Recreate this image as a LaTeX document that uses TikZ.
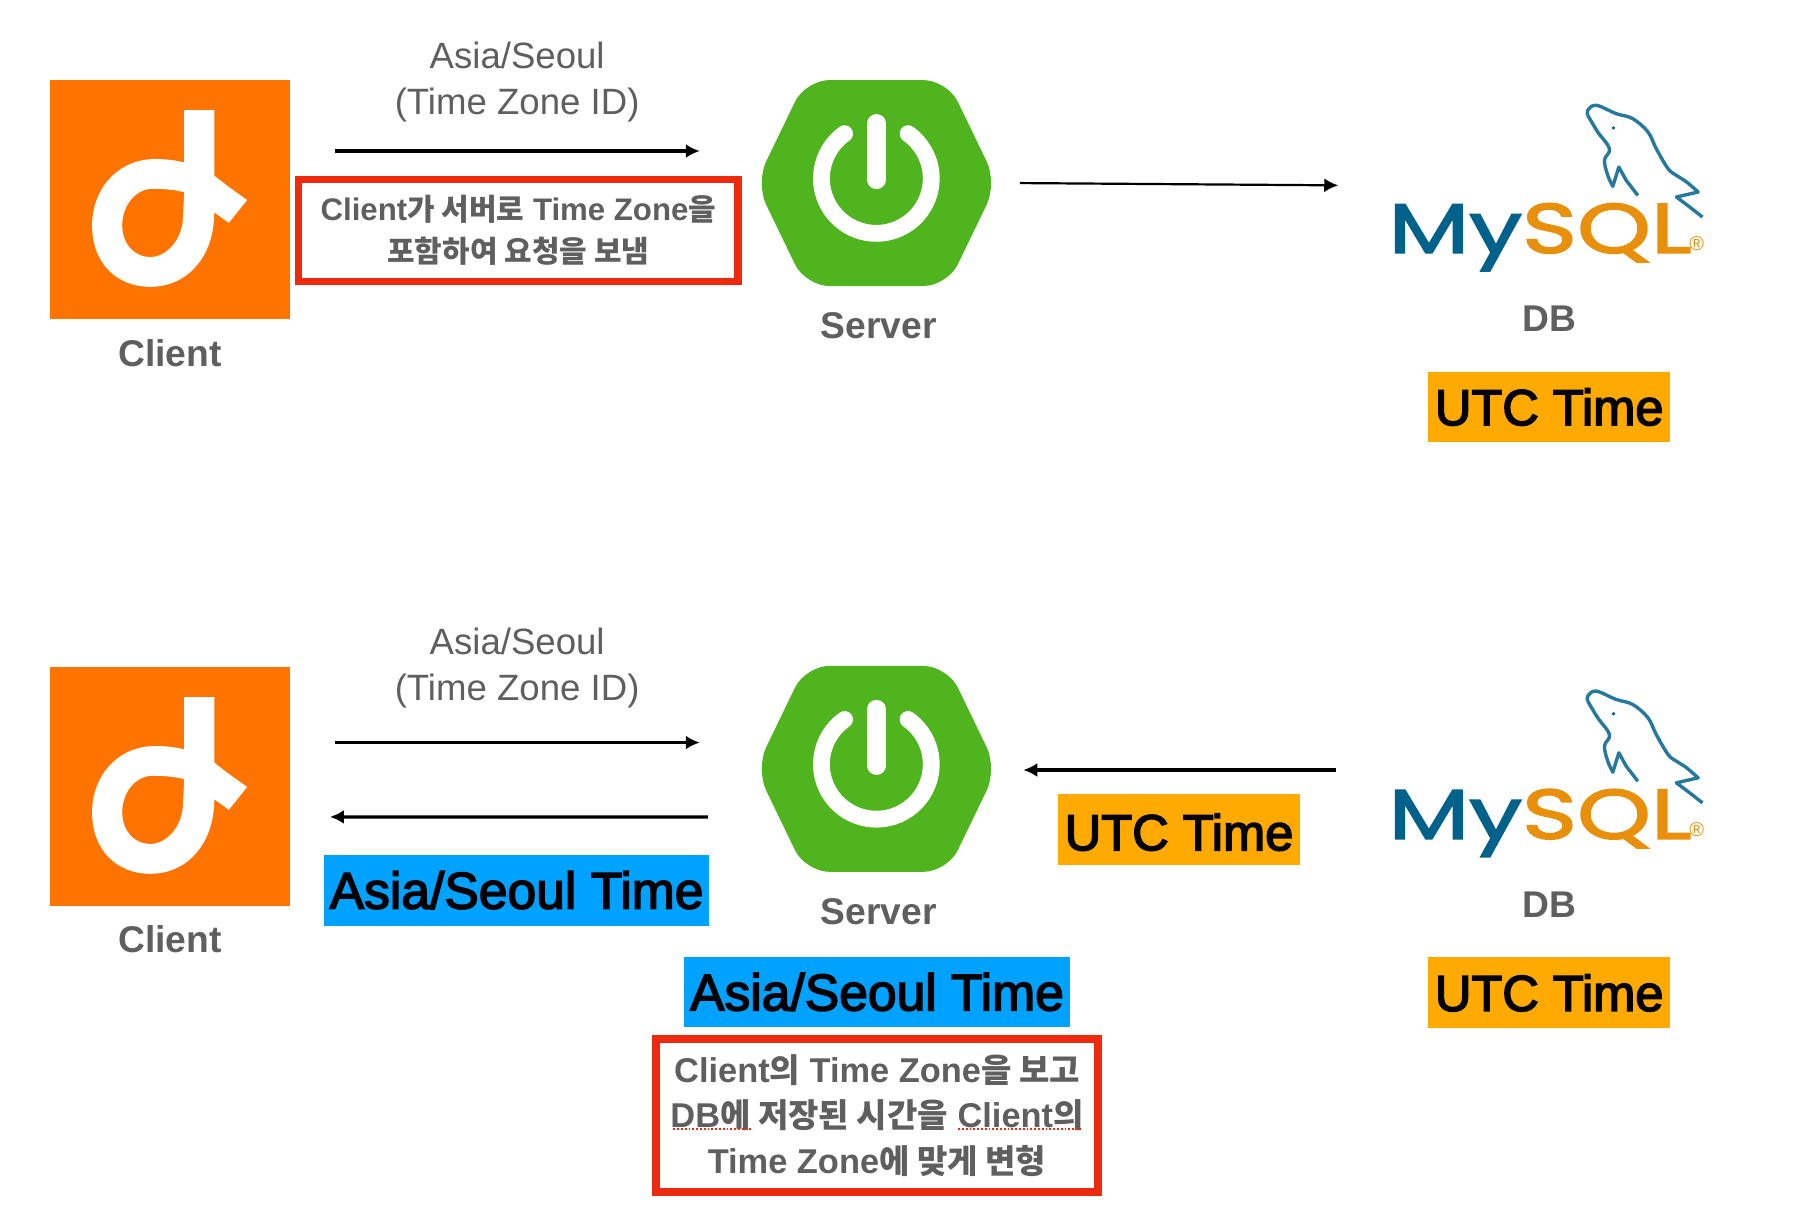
\documentclass[tikz,border=0pt]{standalone}
\usepackage{fontspec}
\setmainfont{Liberation Sans}
\newfontfamily\krfont[Scale=0.96]{Noto Sans CJK KR}
\newfontfamily\mysqlfont[FakeStretch=1.34,FakeBold=2.5]{Poppins}
\newfontfamily\tagfont[FakeBold=3]{Liberation Sans}
\newcommand{\kr}[1]{{\krfont #1}}
\usetikzlibrary{positioning, arrows.meta}

\definecolor{clientorange}{HTML}{FF7300}
\definecolor{springgreen}{HTML}{50B41E}
\definecolor{labelgray}{HTML}{5F5F5F}
\definecolor{noteblue}{HTML}{00A2FF}
\definecolor{noteamber}{HTML}{FFAA00}
\definecolor{notered}{HTML}{EE2A0E}
\definecolor{mysqlblue}{HTML}{00618A}
\definecolor{mysqlorange}{HTML}{E8900C}

\tikzset{
    clientmark/.pic = {
        \fill[white, even odd rule]
            (12.5,-78.3) -- (38.8,-78.3) -- (38.8,-20.9)
            .. controls (50,-12) and (60,-5) .. (67.5,0.3) -- (51.5,20.3) -- (38.8,11)
            .. controls (38.8,50) and (15,76.2) .. (-17.1,76.2)
            .. controls (-47,76.2) and (-68,55) .. (-68,22.6)
            .. controls (-68,-10) and (-45,-35.5) .. (-12.9,-35.5)
            .. controls (-4,-35.5) and (5,-34.5) .. (12.5,-32.5) -- cycle
            (12.5,-6.5) .. controls (5,-8.5) and (-5,-9.5) .. (-15,-9.5)
            .. controls (-30,-9.5) and (-41.7,5) .. (-41.7,22.5)
            .. controls (-41.7,38) and (-32,50.1) .. (-17.1,50.1)
            .. controls (-3,50.1) and (11.5,35) .. (11.5,13.9) -- cycle;
    },
    springmark/.pic = {
        \fill[springgreen, rounded corners = 12pt]
            (-62,-90) -- (62,-90) -- (105.5,0) -- (62,90) -- (-62,90) -- (-105.5,0) -- cycle;
        \draw[white, line width = 8.4pt, line cap = round]
            (-27.8,-43.2) arc[start angle = 234.7, end angle = -54.7, radius = 48];
        \draw[white, line width = 9.5pt, line cap = round] (0,-52) -- (0,-3);
    },
    dolphinmark/.pic = {
        \draw[mysqlblue!85!white, line width = 1.7pt, line join = round]
            plot[smooth, tension = 0.6] coordinates {(33.7,-61.2) (33.7,-65.6) (41,-70) (58.5,-62.7)
                (73,-58.3) (86.3,-46.7) (93.6,-32) (103.9,-14.6) (111.2,-8.7) (120,-3) (130.2,5.8)}
            -- (111.2,10.2) -- (122.9,19) -- (134,27.7);
        \draw[mysqlblue!85!white, line width = 1.7pt, line join = round]
            plot[smooth, tension = 0.6] coordinates {(33.7,-61.2) (42.4,-46.7) (52.7,-32) (48.3,-22)
                (51.2,-8.7) (55.6,0.9)}
            -- (60.9,-16) -- (67.3,-4.4) -- (77.5,8.8);
        \fill[mysqlblue] (56.2,-50.2) circle (1.6);
    }
}

\begin{document}
\begin{tikzpicture}[x = 0.572pt, y = -0.572pt,
    clientbox/.style = {fill = clientorange, minimum size = 119.6pt, inner sep = 0pt},
    markbox/.style = {inner sep = 0pt, minimum width = #1},
    caption/.style = {font = \bfseries\fontsize{18.6}{23}\selectfont, text = labelgray, inner sep = 0pt},
    zoneid/.style = {font = \fontsize{18.3}{23}\selectfont, text = labelgray, align = center, inner sep = 0pt},
    utctag/.style = {fill = noteamber, font = \tagfont\fontsize{25.3}{30}\selectfont, minimum width = 121.3pt, minimum height = 35.4pt, inner sep = 0pt},
    seoultag/.style = {fill = noteblue, font = \tagfont\fontsize{25.8}{30}\selectfont, minimum width = 192.8pt, minimum height = 35.4pt, inner sep = 0pt},
    note/.style = {draw = notered, line width = 3.6pt, align = center, inner sep = 0pt, text = labelgray, font = \bfseries\fontsize{15.6}{20.8}\selectfont},
    mysqltext/.style = {anchor = base, inner sep = 0pt, font = \mysqlfont\fontsize{35}{35}\selectfont},
    flow/.style = {draw, line width = 1.6pt, -{Latex[length = 7pt, width = 7pt]}},
    spellmark/.style = {draw = notered, line width = 0.9pt, densely dotted}]
    \useasboundingbox (0,0) rectangle (1568,1071.7);

    % upper row
    \node[clientbox] (client1) at (148.5,174.5) {};
    \pic at (client1) {clientmark};
    \node[caption] (clientlabel1) [below = 9.5pt of client1] {Client};
    \node[markbox = 115pt, minimum height = 103pt] (server1) at (766,160) {};
    \pic at (server1) {springmark};
    \node[caption] (serverlabel1) [below = 12.8pt of server1, xshift = 1.1pt] {Server};
    \node[markbox = 155.6pt, minimum height = 80.1pt] (db1) at (1354,162) {};
    \pic at (db1) {dolphinmark};
    \node[mysqltext] (mysql1) at ([shift = {(-8,59)}] db1.center)
        {\textcolor{mysqlblue}{My}\textcolor{mysqlorange}{SQL}};
    \node[text = mysqlorange, inner sep = 0pt, font = \fontsize{10}{10}\selectfont] (reg1) at ([shift = {(129,51)}] db1.center) {®};
    \node[caption] (dblabel1) [below = 20pt of db1] {DB};
    \node[utctag] (utc1) [below = 19.5pt of dblabel1] {UTC Time};
    \node[zoneid] (zone1) at (452,72) {Asia/Seoul\\(Time Zone ID)};
    \node[note, minimum width = 219.7pt, minimum height = 50.9pt] (note1) at (453,201.5)
        {Client\kr{가 서버로} Time Zone\kr{을}\\\kr{포함하여 요청을 보냄}};
    \path[flow] ([shift = {(39,-42.5)}] client1.east) -- ([shift = {(-53.5,-28)}] server1.west);
    \path[flow, line width = 1.1pt] ([shift = {(24.5,0)}] server1.east) -- ([shift = {(-48,0)}] db1.west);

    % lower row
    \node[clientbox] (client2) at (148.5,687.5) {};
    \pic at (client2) {clientmark};
    \node[caption] (clientlabel2) [below = 9.5pt of client2] {Client};
    \node[markbox = 115pt, minimum height = 103pt] (server2) at (766,672) {};
    \pic at (server2) {springmark};
    \node[caption] (serverlabel2) [below = 12.8pt of server2, xshift = 1.1pt] {Server};
    \node[markbox = 155.6pt, minimum height = 80.1pt] (db2) at (1354,674) {};
    \pic at (db2) {dolphinmark};
    \node[mysqltext] (mysql2) at ([shift = {(-8,59)}] db2.center)
        {\textcolor{mysqlblue}{My}\textcolor{mysqlorange}{SQL}};
    \node[text = mysqlorange, inner sep = 0pt, font = \fontsize{10}{10}\selectfont] (reg2) at ([shift = {(129,51)}] db2.center) {®};
    \node[caption] (dblabel2) [below = 20pt of db2] {DB};
    \node[utctag] (utc2) [below = 19.5pt of dblabel2] {UTC Time};
    \node[zoneid] (zone2) at (452,584) {Asia/Seoul\\(Time Zone ID)};
    \node[seoultag] (seoul1) at (451.5,778) {Asia/Seoul Time};
    \node[seoultag] (seoul2) at (766.5,867) {Asia/Seoul Time};
    \node[utctag, text height = 21pt] (utc3) at (1030.5,725) {UTC Time};
    \node[note, line width = 4pt, font = \bfseries\fontsize{17.2}{22.7}\selectfont, minimum width = 220.9pt, minimum height = 76.1pt] (note2) at (766.5,975)
        {Client\kr{의} Time Zone\kr{을 보고}\\DB\kr{에 저장된 시간을} Client\kr{의}\\Time Zone\kr{에 맞게 변형}};
    \path[spellmark] ([shift = {(-178,12)}] note2.center) -- ([shift = {(-110,12)}] note2.center);
    \path[spellmark] ([shift = {(71,12)}] note2.center) -- ([shift = {(178,12)}] note2.center);
    \path[flow] ([shift = {(39,-38.5)}] client2.east) -- ([shift = {(-53.5,-23)}] server2.west);
    \path[flow] ([shift = {(-46.5,42)}] server2.west) -- ([shift = {(35,26.5)}] client2.east);
    \path[flow] ([shift = {(-50,-1)}] db2.west) -- ([shift = {(27.5,1)}] server2.east);
\end{tikzpicture}
\end{document}
